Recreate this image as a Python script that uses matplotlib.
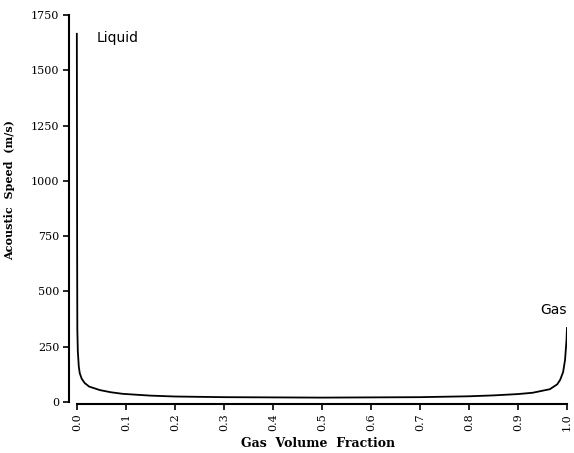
import matplotlib.pyplot as plt
import numpy as np

# acoustic speed vs gas volume fraction
gas_frac = [0.0, 0.0003, 0.0006, 0.001, 0.002, 0.004, 0.006, 0.01, 0.016, 0.025,
            0.047, 0.07, 0.094, 0.15, 0.2, 0.3, 0.4, 0.5, 0.6, 0.7, 0.8,
            0.85, 0.9, 0.93, 0.965, 0.98, 0.986, 0.992, 0.996, 0.999, 1.0]
speed = [1665, 1200, 700, 330, 230, 160, 130, 105, 86, 70,
         54, 44, 37, 29, 25, 22, 21, 20, 21, 22, 26,
         30, 36, 42, 58, 80, 100, 135, 190, 280, 335]

xticks = [0.0, 0.1, 0.2, 0.3, 0.4, 0.5, 0.6, 0.7, 0.8, 0.9, 1.0]
yticks = [0, 250, 500, 750, 1000, 1250, 1500, 1750]

fig = plt.figure(figsize=(5.74, 4.53), dpi=100)
ax = fig.add_axes([0.1202, 0.1086, 0.8676, 0.8583])

ax.plot(gas_frac, speed, color='black', lw=1.3)

ax.set_xlim(-0.016, 1.0)
ax.set_ylim(-8, 1750)
ax.spines['top'].set_visible(False)
ax.spines['right'].set_visible(False)
ax.spines['bottom'].set_bounds(0, 1.0)
ax.spines['left'].set_bounds(0, 1750)
ax.spines['bottom'].set_linewidth(1.5)
ax.spines['left'].set_linewidth(1.5)

ax.set_xticks(xticks)
ax.set_xticklabels(['%.1f' % v for v in xticks], rotation=90,
                   family='DejaVu Serif', fontsize=8)
ax.set_yticks(yticks)
ax.set_yticklabels([str(v) for v in yticks], family='DejaVu Serif', fontsize=8)
ax.tick_params(direction='out', length=4, width=1.2, pad=3)

ax.set_xlabel('Gas  Volume  Fraction', family='DejaVu Serif', fontweight='bold',
              fontsize=9, labelpad=4)
ax.set_ylabel('Acoustic  Speed  (m/s)', family='DejaVu Serif', fontweight='bold',
              fontsize=8)
ax.yaxis.set_label_coords(-0.108, 0.55)

ax.text(0.04, 1630, 'Liquid', fontsize=10, family='DejaVu Sans')
ax.text(0.999, 400, 'Gas', fontsize=10, family='DejaVu Sans', ha='right')

fig.savefig('out.png', dpi=100)
